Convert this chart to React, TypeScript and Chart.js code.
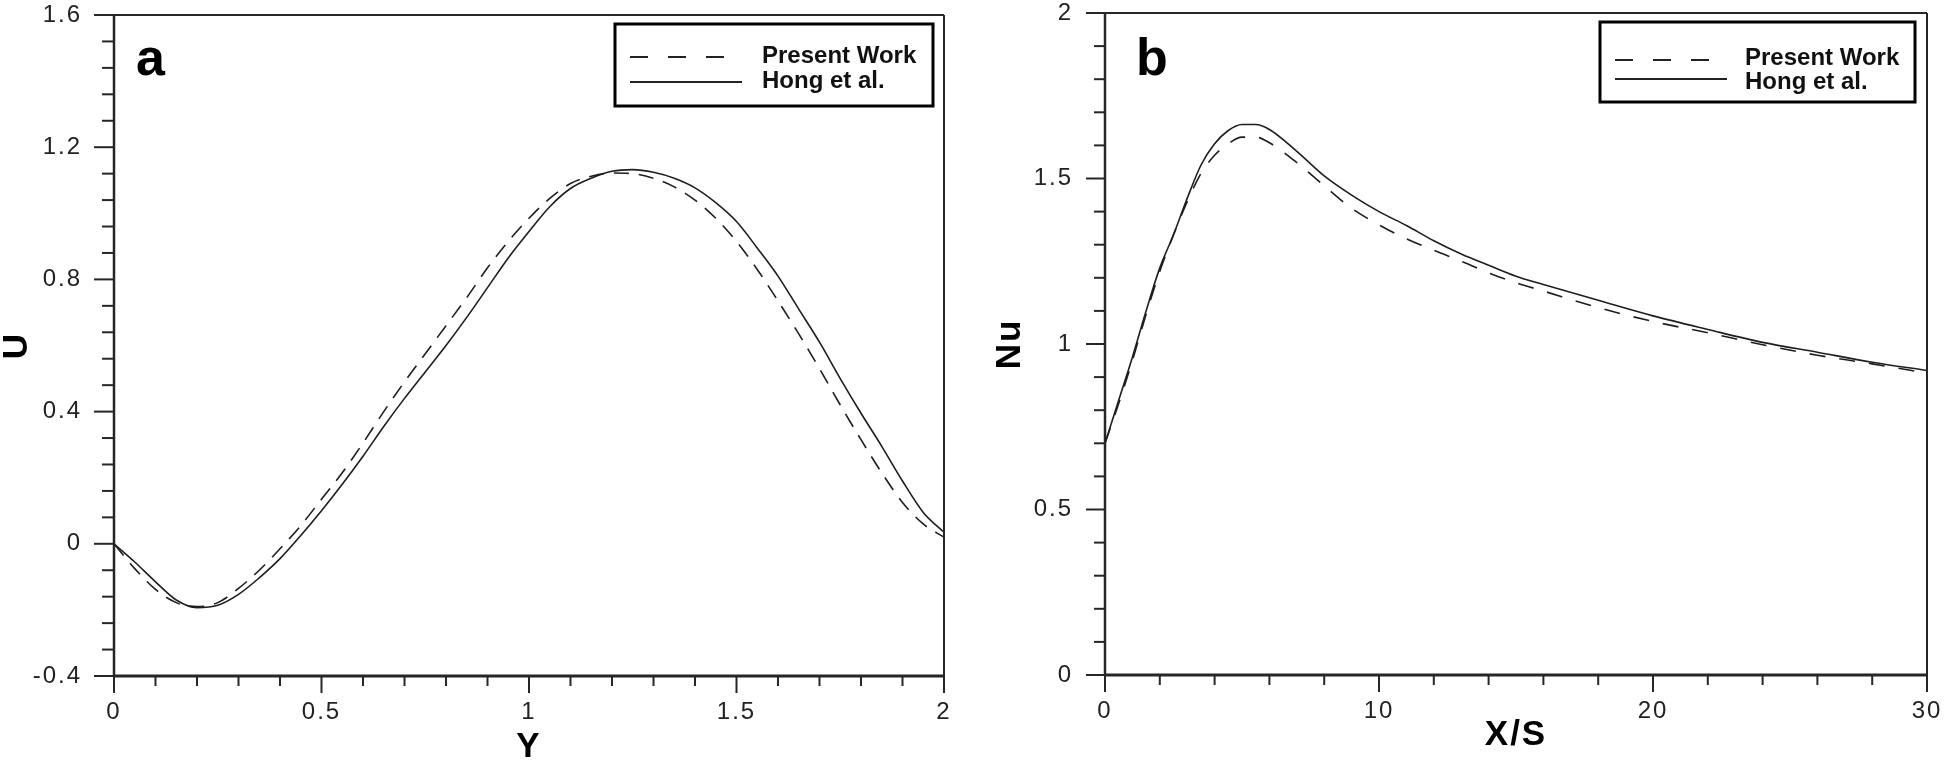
import React, { useEffect, useRef } from "react";
import { Chart, registerables } from "chart.js";

Chart.register(...registerables);

// ---------- Panel (a): velocity profile ----------
const velY = [
  0, 0.05, 0.1, 0.15, 0.2, 0.25, 0.3, 0.35, 0.4, 0.45, 0.5, 0.55, 0.6, 0.65, 0.7, 0.75, 0.8, 0.85, 0.9, 0.95, 1.0,
  1.05, 1.1, 1.15, 1.2, 1.25, 1.3, 1.35, 1.4, 1.45, 1.5, 1.55, 1.6, 1.65, 1.7, 1.75, 1.8, 1.85, 1.9, 1.95, 2.0,
];
const velPresent = [
  0.0, -0.075, -0.138, -0.178, -0.19, -0.178, -0.135, -0.08, -0.015, 0.055, 0.135, 0.215, 0.305, 0.4, 0.49, 0.575,
  0.66, 0.745, 0.835, 0.915, 0.985, 1.045, 1.09, 1.112, 1.122, 1.12, 1.106, 1.08, 1.04, 0.985, 0.915, 0.83, 0.735,
  0.635, 0.53, 0.42, 0.315, 0.215, 0.125, 0.06, 0.02,
];
const velHong = [
  0.0, -0.055, -0.115, -0.17, -0.193, -0.186, -0.153, -0.103, -0.045, 0.025, 0.1, 0.18, 0.265, 0.355, 0.44, 0.52,
  0.6, 0.685, 0.775, 0.865, 0.945, 1.02, 1.075, 1.106, 1.127, 1.132, 1.124, 1.106, 1.077, 1.032, 0.975, 0.895, 0.81,
  0.71, 0.61, 0.5, 0.395, 0.295, 0.19, 0.095, 0.035,
];
const velXTicks = [0, 0.5, 1, 1.5, 2];
const velXTickLabels = ["0", "0.5", "1", "1.5", "2"];
const velUTicks = [-0.4, 0, 0.4, 0.8, 1.2, 1.6];
const velUTickLabels = ["-0.4", "0", "0.4", "0.8", "1.2", "1.6"];

// ---------- Panel (b): Nusselt number ----------
const nuXs = [0, 0.5, 1, 1.5, 2, 2.5, 3, 3.5, 4, 4.5, 5, 5.5, 6, 7, 8, 9, 10, 11, 12, 13, 14, 15, 16, 18, 20, 22, 24, 26, 28, 30];
const nuPresent = [
  0.7, 0.82, 0.95, 1.09, 1.22, 1.33, 1.43, 1.515, 1.57, 1.605, 1.625, 1.625, 1.608, 1.548, 1.478, 1.41, 1.36, 1.318,
  1.283, 1.25, 1.215, 1.185, 1.16, 1.11, 1.068, 1.034, 0.998, 0.966, 0.94, 0.912,
];
const nuHong = [
  0.7, 0.83, 0.96, 1.1, 1.23, 1.33, 1.44, 1.54, 1.605, 1.645, 1.663, 1.663, 1.648, 1.582, 1.508, 1.45, 1.4, 1.358,
  1.312, 1.272, 1.238, 1.205, 1.18, 1.132, 1.085, 1.044, 1.005, 0.975, 0.945, 0.92,
];
const nuXTicks = [0, 10, 20, 30];
const nuXTickLabels = ["0", "10", "20", "30"];
const nuYTicks = [0, 0.5, 1, 1.5, 2];
const nuYTickLabels = ["0", "0.5", "1", "1.5", "2"];

const seriesLabels = ["Present Work", "Hong et al."];

const FONT = "'Liberation Sans', Arial, Helvetica, sans-serif";
const INK = "#262626";

function line(ctx: CanvasRenderingContext2D, x1: number, y1: number, x2: number, y2: number) {
  ctx.beginPath();
  ctx.moveTo(x1, y1);
  ctx.lineTo(x2, y2);
  ctx.stroke();
}

const decorPlugin = {
  id: "decor",
  beforeDraw(chart: any) {
    chart.ctx.letterSpacing = "2px";
  },
  beforeDatasetsDraw(chart: any) {
    chart.ctx.letterSpacing = "0px";
  },
  afterDraw(chart: any) {
    const o = chart.options.plugins.decor;
    const ctx: CanvasRenderingContext2D = chart.ctx;
    const { left, right, top, bottom } = chart.chartArea;
    const xs = chart.scales.x;
    const ys = chart.scales.y;
    ctx.save();
    (ctx as any).letterSpacing = "0px";
    ctx.setLineDash([]);
    ctx.strokeStyle = INK;
    ctx.lineCap = "butt";

    // minor & major ticks (outside)
    ctx.lineWidth = 2;
    const nx = Math.round((xs.max - xs.min) / o.xMinor);
    for (let i = 0; i <= nx; i++) {
      const p = xs.getPixelForValue(xs.min + i * o.xMinor);
      const len = i % o.majorEvery === 0 ? o.xMajorLen : o.xMinorLen;
      line(ctx, p, bottom, p, bottom + len);
    }
    const ny = Math.round((ys.max - ys.min) / o.yMinor);
    for (let i = 0; i <= ny; i++) {
      const p = ys.getPixelForValue(ys.min + i * o.yMinor);
      const len = i % o.majorEvery === 0 ? o.yMajorLen : o.yMinorLen;
      line(ctx, left, p, left - len, p);
    }

    // frame
    ctx.lineWidth = 2;
    line(ctx, left, top, right, top);
    line(ctx, right, top, right, bottom);
    ctx.lineWidth = 2.5;
    line(ctx, left, top - 1, left, bottom + 1);
    ctx.lineWidth = 3;
    line(ctx, left - 1, bottom, right + 1, bottom);

    // legend box
    const bx = right - o.legendInsetRight - o.legendW;
    const by = top + o.legendInsetTop;
    ctx.lineWidth = 3;
    ctx.strokeStyle = "#000";
    ctx.strokeRect(bx, by, o.legendW, o.legendH);
    ctx.font = `bold 24px ${FONT}`;
    ctx.fillStyle = "#111";
    ctx.textAlign = "left";
    ctx.textBaseline = "alphabetic";
    chart.data.datasets.forEach((ds: any, i: number) => {
      const y = by + o.legendRows[i];
      ctx.strokeStyle = "#222";
      ctx.lineWidth = 2;
      const dashed = ds.borderDash && ds.borderDash.length > 0;
      ctx.setLineDash(dashed ? [18, 20] : []);
      line(ctx, bx + 15, y, bx + (dashed ? 112 : 127), y);
      ctx.setLineDash([]);
      ctx.fillText(ds.label, bx + o.legendTextDx, by + o.legendTextRows[i]);
    });

    // panel label
    ctx.font = `bold 52px ${FONT}`;
    ctx.fillStyle = "#000";
    ctx.fillText(o.panel, left + o.panelDx, top + o.panelDy);
    ctx.restore();
  },
};

function makeTicks(values: number[]) {
  return (scale: any) => {
    scale.ticks = values.map((v) => ({ value: v }));
  };
}

function axisCommon(extra: any) {
  return {
    type: "linear",
    grid: { display: false, drawTicks: false },
    border: { display: false },
    ...extra,
  };
}

function buildConfig(p: any) {
  return {
    type: "line",
    data: {
      datasets: [
        {
          label: seriesLabels[0],
          data: p.xs.map((x: number, i: number) => ({ x, y: p.present[i] })),
          borderColor: "#1e1e1e",
          borderWidth: 1.6,
          borderDash: p.dash,
          pointRadius: 0,
          cubicInterpolationMode: "monotone",
          fill: false,
        },
        {
          label: seriesLabels[1],
          data: p.xs.map((x: number, i: number) => ({ x, y: p.hong[i] })),
          borderColor: "#1e1e1e",
          borderWidth: 1.6,
          pointRadius: 0,
          cubicInterpolationMode: "monotone",
          fill: false,
        },
      ],
    },
    options: {
      responsive: false,
      animation: false,
      devicePixelRatio: 1,
      layout: { padding: p.padding },
      plugins: {
        legend: { display: false },
        tooltip: { enabled: false },
        decor: p.decor,
      },
      scales: {
        x: axisCommon({
          min: p.xMin,
          max: p.xMax,
          afterBuildTicks: makeTicks(p.xTicks),
          afterFit: (s: any) => {
            s.height = p.xAxisH;
            s.paddingLeft = 0;
            s.paddingRight = 0;
          },
          ticks: {
            padding: 22,
            color: "#222",
            font: { family: FONT, size: 24 },
            maxRotation: 0,
            callback: (v: number) => p.xTickLabels[p.xTicks.indexOf(v)] ?? "",
          },
          title: {
            display: true,
            text: p.xTitle,
            color: "#000",
            font: { family: FONT, size: 35, weight: "bold", lineHeight: 1 },
            padding: { top: 0, bottom: p.xTitlePad },
          },
        }),
        y: axisCommon({
          min: p.yMin,
          max: p.yMax,
          afterBuildTicks: makeTicks(p.yTicks),
          afterFit: (s: any) => {
            s.width = p.yAxisW;
            s.paddingTop = 0;
            s.paddingBottom = 0;
          },
          ticks: {
            padding: 32,
            color: "#222",
            font: { family: FONT, size: 24 },
            callback: (v: number) => p.yTickLabels[p.yTicks.indexOf(v)] ?? "",
          },
          title: {
            display: true,
            text: p.yTitle,
            color: "#000",
            font: { family: FONT, size: 35, weight: "bold", lineHeight: 1 },
            padding: { top: p.yTitlePad, bottom: 0 },
          },
        }),
      },
    },
    plugins: [decorPlugin],
  };
}

const panelA = {
  xs: velY,
  present: velPresent,
  hong: velHong,
  dash: [15, 10],
  xMin: 0,
  xMax: 2,
  yMin: -0.4,
  yMax: 1.6,
  xTicks: velXTicks,
  xTickLabels: velXTickLabels,
  yTicks: velUTicks,
  yTickLabels: velUTickLabels,
  xTitle: "Y",
  yTitle: "U",
  xTitlePad: 0,
  yTitlePad: 0,
  yAxisW: 114,
  xAxisH: 89,
  padding: { left: 0, top: 15, right: 31, bottom: 0 },
  decor: {
    xMinor: 0.1,
    yMinor: 0.08,
    majorEvery: 5,
    xMajorLen: 17,
    xMinorLen: 10,
    yMajorLen: 20,
    yMinorLen: 12,
    legendInsetRight: 11,
    legendInsetTop: 9,
    legendW: 318,
    legendH: 82,
    legendRows: [33, 58],
    legendTextRows: [39, 64],
    legendTextDx: 147,
    panel: "a",
    panelDx: 22,
    panelDy: 60,
  },
};

const panelB = {
  xs: nuXs,
  present: nuPresent,
  hong: nuHong,
  dash: [16, 14],
  xMin: 0,
  xMax: 30,
  yMin: 0,
  yMax: 2,
  xTicks: nuXTicks,
  xTickLabels: nuXTickLabels,
  yTicks: nuYTicks,
  yTickLabels: nuYTickLabels,
  xTitle: "X/S",
  yTitle: "Nu",
  xTitlePad: 12,
  yTitlePad: 18,
  yAxisW: 130,
  xAxisH: 90,
  padding: { left: 0, top: 13, right: 19, bottom: 0 },
  decor: {
    xMinor: 2,
    yMinor: 0.1,
    majorEvery: 5,
    xMajorLen: 17,
    xMinorLen: 10,
    yMajorLen: 19,
    yMinorLen: 11,
    legendInsetRight: 12,
    legendInsetTop: 9,
    legendW: 315,
    legendH: 80,
    legendRows: [38, 57],
    legendTextRows: [43, 67],
    legendTextDx: 145,
    panel: "b",
    panelDx: 31,
    panelDy: 62,
  },
};

function Panel({ cfg, left, width }: { cfg: any; left: number; width: number }) {
  const ref = useRef<HTMLCanvasElement | null>(null);
  useEffect(() => {
    if (!ref.current) return;
    const chart = new Chart(ref.current, buildConfig(cfg) as any);
    return () => chart.destroy();
  }, [cfg]);
  return (
    <canvas
      ref={ref}
      width={width}
      height={765}
      style={{ position: "absolute", left, top: 0, width, height: 765 }}
    />
  );
}

export default function App() {
  return (
    <div
      style={{
        position: "fixed",
        left: 0,
        top: 0,
        width: 1946,
        height: 765,
        background: "#ffffff",
        overflow: "hidden",
      }}
    >
      <Panel cfg={panelA} left={0} width={975} />
      <Panel cfg={panelB} left={975} width={971} />
    </div>
  );
}
